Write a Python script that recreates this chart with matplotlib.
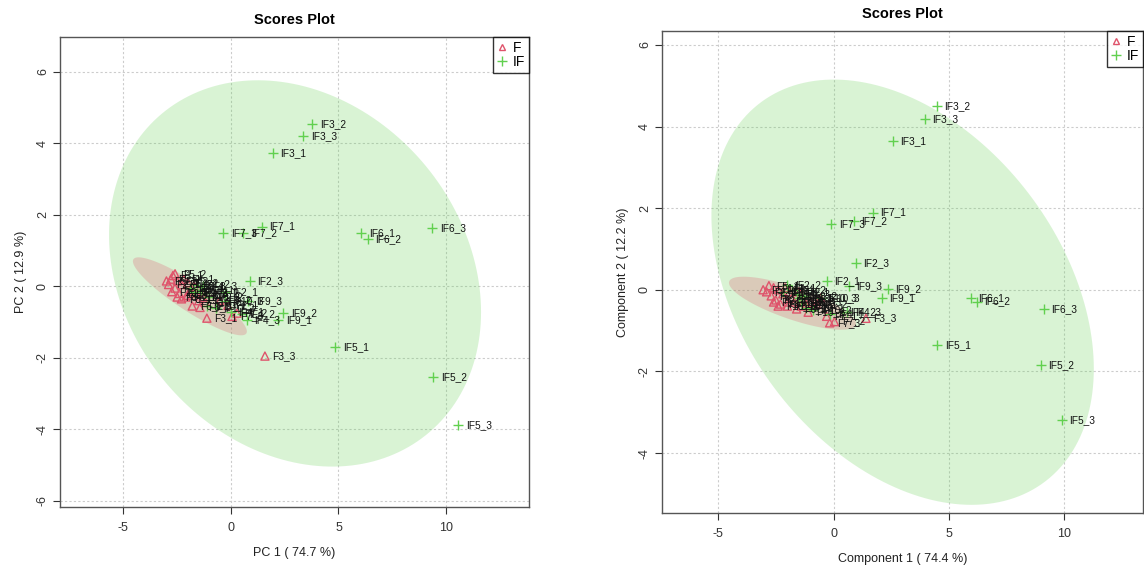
import numpy as np
import matplotlib
matplotlib.use("Agg")
import matplotlib.pyplot as plt
from matplotlib.lines import Line2D

plt.rcParams['font.family'] = ['Liberation Sans', 'DejaVu Sans']

# ---------------- data ----------------
names_F = ["F1_1", "F1_2", "F1_3", "F2_1", "F2_2", "F2_3", "F3_1", "F3_2", "F3_3",
           "F4_1", "F4_2", "F4_3", "F5_1", "F5_2", "F5_3", "F6_1", "F6_2", "F6_3",
           "F7_1", "F7_2", "F7_3", "F8_1", "F8_2", "F8_3", "F9_1", "F9_2", "F9_3",
           "F10_1", "F10_2", "F10_3"]
names_IF = ["IF1_1", "IF1_2", "IF1_3", "IF2_1", "IF2_2", "IF2_3", "IF3_1", "IF3_2", "IF3_3",
            "IF4_1", "IF4_2", "IF4_3", "IF5_1", "IF5_2", "IF5_3", "IF6_1", "IF6_2", "IF6_3",
            "IF7_1", "IF7_2", "IF7_3", "IF8_1", "IF8_2", "IF8_3", "IF9_1", "IF9_2", "IF9_3",
            "IF10_1", "IF10_2", "IF10_3"]

# PCA scores (left panel)
pca_F_x = [-2.7, -2.5, -2.3, -2.9, -2.6, -2.4, -1.12, -0.51, 1.58,
           -2.2, -2.0, -1.9, -2.8, -2.6, -3.0, -2.1, -1.8, -1.44,
           -0.14, 0.28, 0.05, -2.3, -2.5, -2.0, -1.7, -1.6, -1.5,
           -2.75, -1.3, -1.2]
pca_F_y = [0.30, 0.15, 0.05, 0.05, -0.05, -0.20, -0.89, -0.39, -1.95,
           0.20, 0.10, -0.10, 0.20, 0.35, 0.15, -0.30, -0.55, -0.59,
           -0.53, -0.75, -0.84, -0.35, -0.30, -0.25, 0.00, -0.20, -0.40,
           -0.15, -0.30, -0.45]
pca_IF_x = [-1.9, -1.6, -1.7, -0.28, -1.0, 0.88, 1.95, 3.77, 3.35,
            0.0, 0.5, 0.74, 4.84, 9.40, 10.56, 6.05, 6.37, 9.35,
            1.44, 0.56, -0.37, -1.4, -1.2, -1.3, 2.19, 2.42, 0.80,
            -1.1, -0.7, -0.3]
pca_IF_y = [-0.05, 0.05, -0.15, -0.16, -0.30, 0.14, 3.73, 4.54, 4.20,
            -0.72, -0.78, -0.95, -1.70, -2.53, -3.87, 1.50, 1.31, 1.64,
            1.67, 1.50, 1.50, -0.10, -0.20, 0.00, -0.95, -0.75, -0.42,
            -0.55, -0.60, -0.42]

# PLS-DA scores (right panel)
pls_F_x = [-2.6, -2.4, -2.2, -2.9, -2.7, -2.5, -1.17, -0.75, 1.40,
           -2.1, -1.9, -1.8, -2.8, -3.05, -2.6, -2.0, -1.6, -1.4,
           -0.3, 0.04, -0.17, -2.3, -2.0, -1.7, -1.5, -1.3, -1.0,
           -2.4, -1.1, -0.56]
pls_F_y = [0.05, 0.00, -0.10, -0.05, -0.15, -0.25, -0.37, -0.35, -0.70,
           0.05, -0.05, -0.20, 0.10, 0.00, -0.30, -0.30, -0.47, -0.40,
           -0.65, -0.78, -0.81, -0.35, -0.40, -0.30, -0.05, -0.25, -0.30,
           -0.40, -0.55, -0.20]
pls_IF_x = [-2.2, -1.8, -1.6, -0.30, -2.0, 0.95, 2.56, 4.46, 3.94,
            -0.15, 0.4, 0.6, 4.50, 8.97, 9.88, 5.94, 6.20, 9.10,
            1.69, 0.87, -0.09, -1.5, -1.3, -1.4, 2.08, 2.34, 0.65,
            -1.2, -0.9, -0.56]
pls_IF_y = [-0.05, 0.00, -0.10, 0.22, 0.12, 0.66, 3.65, 4.51, 4.19,
            -0.60, -0.55, -0.54, -1.35, -1.84, -3.19, -0.20, -0.29, -0.47,
            1.89, 1.69, 1.62, -0.20, -0.15, -0.30, -0.20, 0.02, 0.10,
            -0.45, -0.50, -0.20]

# 95% confidence ellipses: centre x, centre y, half-extent x, half-extent y, correlation
pca_ell_F = [-1.91, -0.28, 2.65, 1.09, -0.90]
pca_ell_IF = [2.98, 0.36, 8.65, 5.40, -0.20]
pls_ell_F = [-1.78, -0.33, 2.75, 0.65, -0.77]
pls_ell_IF = [2.99, -0.06, 8.28, 5.21, -0.36]

RED = "#DF536B"
GREEN = "#61D04F"


def ellipse_pts(p, n=200):
    cx, cy, sx, sy, r = p
    S = np.array([[sx * sx, r * sx * sy], [r * sx * sy, sy * sy]])
    L = np.linalg.cholesky(S)
    t = np.linspace(0, 2 * np.pi, n)
    pts = L @ np.vstack([np.cos(t), np.sin(t)])
    return pts[0] + cx, pts[1] + cy


def panel(ax, Fx, Fy, IFx, IFy, ellF, ellIF, xlim, ylim, xt, yt, xlabel, ylabel):
    ax.set_xlim(*xlim)
    ax.set_ylim(*ylim)
    for v in xt:
        ax.axvline(v, color="#cccccc", lw=0.8, ls=(0, (2, 2)), zorder=0)
    for v in yt:
        ax.axhline(v, color="#cccccc", lw=0.8, ls=(0, (2, 2)), zorder=0)
    ex, ey = ellipse_pts(ellIF)
    ax.fill(ex, ey, color=GREEN, alpha=0.24, lw=0, zorder=1)
    ex, ey = ellipse_pts(ellF)
    ax.fill(ex, ey, color=RED, alpha=0.25, lw=0, zorder=1)
    ax.scatter(Fx, Fy, marker="^", facecolors="none", edgecolors=RED, s=34, lw=1.0, zorder=3)
    ax.scatter(IFx, IFy, marker="+", color=GREEN, s=60, lw=1.0, zorder=3)
    for n, x, y in zip(names_F, Fx, Fy):
        ax.annotate(n, (x, y), xytext=(5.5, 0), textcoords="offset points",
                    fontsize=7.3, ha="left", va="center", color="#111111", zorder=4)
    for n, x, y in zip(names_IF, IFx, IFy):
        ax.annotate(n, (x, y), xytext=(5.5, 0), textcoords="offset points",
                    fontsize=7.3, ha="left", va="center", color="#111111", zorder=4)
    ax.set_xticks(xt)
    ax.set_yticks(yt)
    ax.set_xticklabels([str(v) for v in xt], fontsize=9, color="#333333")
    ax.set_yticklabels([str(v) for v in yt], fontsize=9, color="#333333",
                       rotation=90, va="center")
    ax.tick_params(direction="out", length=5, width=0.8, colors="#333333", pad=3)
    ax.tick_params(axis="x", pad=6)
    for s in ax.spines.values():
        s.set_color("#555555")
        s.set_linewidth(1.0)
    ax.set_xlabel(xlabel, fontsize=9, color="#222222", labelpad=9)
    ax.set_ylabel(ylabel, fontsize=9, color="#222222", labelpad=7)
    ax.set_title("Scores Plot", fontsize=10.5, fontweight="bold", pad=9)
    handles = [Line2D([], [], marker="^", ls="none", markerfacecolor="none",
                      markeredgecolor=RED, markersize=5),
               Line2D([], [], marker="+", ls="none", color=GREEN, markersize=7)]
    leg = ax.legend(handles, ["F", "IF"], loc="upper right", fontsize=10,
                    frameon=True, fancybox=False, borderaxespad=0,
                    handlelength=0.7, handletextpad=0.4, borderpad=0.3,
                    labelspacing=0.0)
    leg.get_frame().set_edgecolor("black")
    leg.get_frame().set_linewidth(1.0)


fig = plt.figure(figsize=(11.44, 5.66), dpi=100)
W, H = 1144, 566
ax1 = fig.add_axes([60 / W, 1 - 507 / H, 469 / W, 470 / H])
ax2 = fig.add_axes([662 / W, 1 - 513 / H, 481 / W, 482 / H])

panel(ax1, pca_F_x, pca_F_y, pca_IF_x, pca_IF_y, pca_ell_F, pca_ell_IF,
      (-7.95, 13.86), (-6.17, 6.97), [-5, 0, 5, 10], [-6, -4, -2, 0, 2, 4, 6],
      "PC 1 ( 74.7 %)", "PC 2 ( 12.9 %)")
panel(ax2, pls_F_x, pls_F_y, pls_IF_x, pls_IF_y, pls_ell_F, pls_ell_IF,
      (-7.43, 13.4), (-5.47, 6.34), [-5, 0, 5, 10], [-4, -2, 0, 2, 4, 6],
      "Component 1 ( 74.4 %)", "Component 2 ( 12.2 %)")

fig.savefig("out.png", dpi=100)
